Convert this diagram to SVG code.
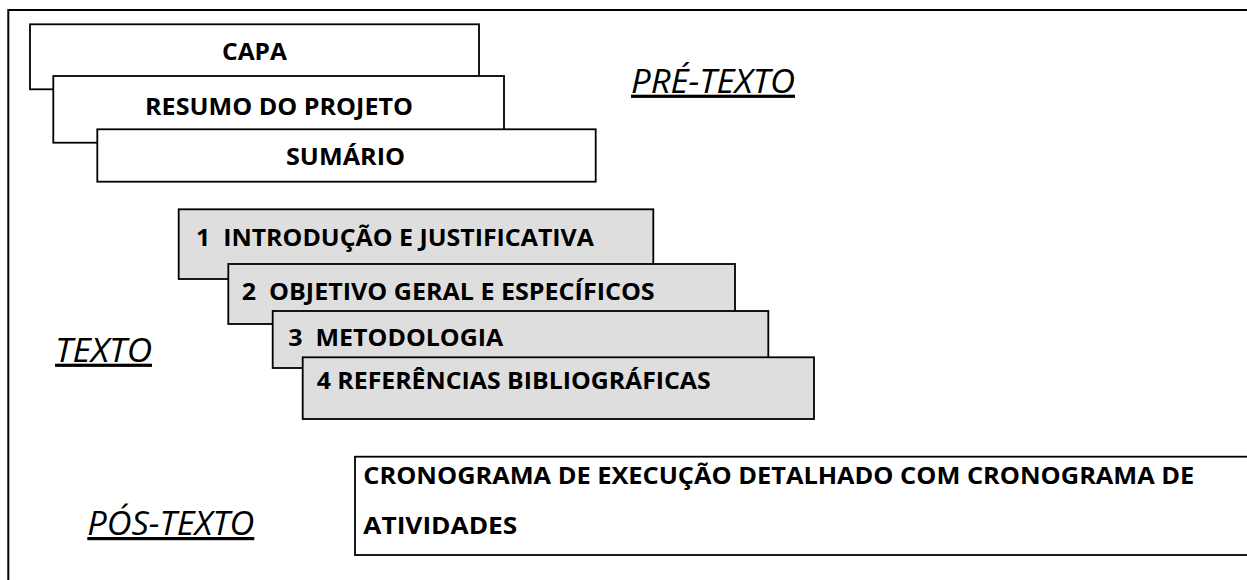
<svg xmlns="http://www.w3.org/2000/svg" width="1247" height="580" viewBox="0 0 1247 580">
<style>
.frame{fill:none;stroke:#000;stroke-width:2}
.box{fill:#fff;stroke:#000;stroke-width:1.8}
.gbox{fill:#dedede;stroke:#000;stroke-width:1.8}
.t{font-family:"Open Sans","Liberation Sans",sans-serif;font-weight:700;font-size:24px;fill:#000;white-space:pre}
.lbl{font-family:"Open Sans","Liberation Sans",sans-serif;font-style:italic;font-size:32px;fill:#000;text-decoration:underline}
</style>
<rect x="0" y="0" width="1247" height="580" fill="#fff"/>
<rect id="frame" class="frame" x="8.3" y="10" width="1300" height="620"/>

<g id="capa">
<rect class="box" x="30" y="24.3" width="449" height="65"/>
<text class="t" x="222" y="60" textLength="65" lengthAdjust="spacingAndGlyphs">CAPA</text>
</g>
<g id="resumo">
<rect class="box" x="53.3" y="76" width="450.7" height="66.7"/>
<text class="t" x="145" y="115" textLength="268" lengthAdjust="spacingAndGlyphs">RESUMO DO PROJETO</text>
</g>
<g id="sumario">
<rect class="box" x="97.3" y="129.3" width="498.4" height="52.4"/>
<text class="t" x="286" y="165" textLength="119" lengthAdjust="spacingAndGlyphs">SUMÁRIO</text>
</g>

<g id="introducao">
<rect class="gbox" x="178.7" y="209.3" width="474.6" height="69.7"/>
<text class="t" xml:space="preserve" x="196" y="245.5" textLength="398" lengthAdjust="spacingAndGlyphs">1  INTRODUÇÃO E JUSTIFICATIVA</text>
</g>
<g id="objetivo">
<rect class="gbox" x="228.3" y="264" width="506.7" height="60"/>
<text class="t" xml:space="preserve" x="241.7" y="300" textLength="413" lengthAdjust="spacingAndGlyphs">2  OBJETIVO GERAL E ESPECÍFICOS</text>
</g>
<g id="metodologia">
<rect class="gbox" x="272.7" y="311" width="495.6" height="57"/>
<text class="t" xml:space="preserve" x="288.3" y="345.5" textLength="215" lengthAdjust="spacingAndGlyphs">3  METODOLOGIA</text>
</g>
<g id="referencias">
<rect class="gbox" x="302.7" y="357.3" width="511.3" height="61.7"/>
<text class="t" x="316.7" y="389" textLength="394" lengthAdjust="spacingAndGlyphs">4 REFERÊNCIAS BIBLIOGRÁFICAS</text>
</g>

<g id="cronograma">
<rect class="box" x="355" y="456.7" width="920" height="98.3"/>
<text class="t" x="363.3" y="484" textLength="831" lengthAdjust="spacingAndGlyphs">CRONOGRAMA DE EXECUÇÃO DETALHADO COM CRONOGRAMA DE</text>
<text class="t" x="363.3" y="534" textLength="154" lengthAdjust="spacingAndGlyphs">ATIVIDADES</text>
</g>

<g id="label-pre-texto">
<text class="lbl" x="631" y="92.7" textLength="164" lengthAdjust="spacingAndGlyphs">PRÉ-TEXTO</text>
</g>
<g id="label-texto">
<text class="lbl" x="55" y="361.7" textLength="97" lengthAdjust="spacingAndGlyphs">TEXTO</text>
</g>
<g id="label-pos-texto">
<text class="lbl" x="87.3" y="535" textLength="167" lengthAdjust="spacingAndGlyphs">PÓS-TEXTO</text>
</g>

<g id="connectors"></g>
</svg>
